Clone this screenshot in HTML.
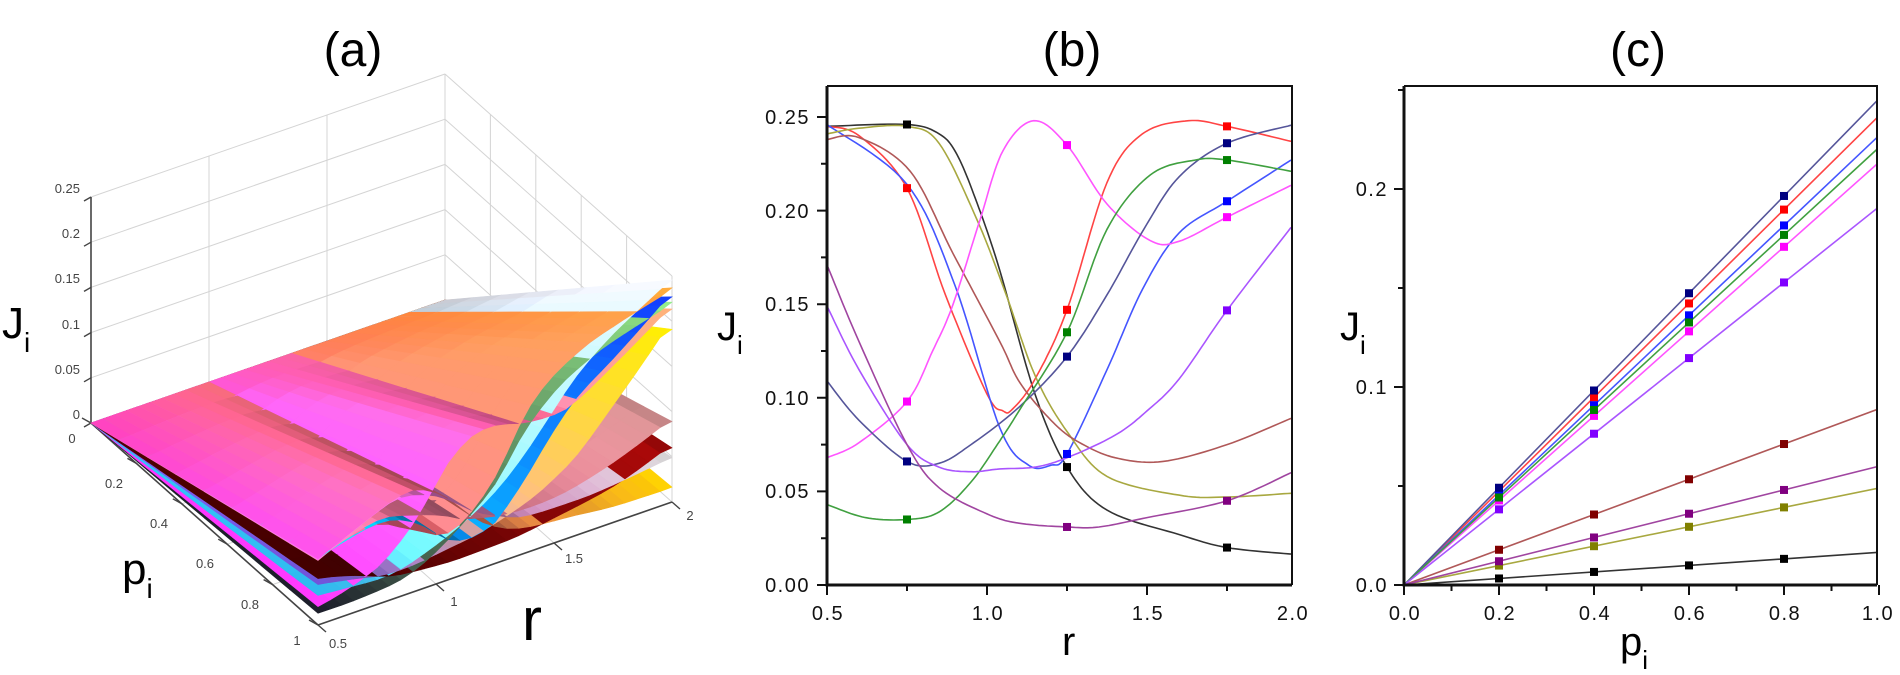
<!DOCTYPE html>
<html><head><meta charset="utf-8"><style>
html,body{margin:0;padding:0;background:#fff;}
svg{display:block;font-family:"Liberation Sans",Arial,sans-serif;}
.tk{font-size:20px;letter-spacing:1.5px;fill:#111;}
.t3{font-size:13px;fill:#444;}
</style></head><body>
<svg id="s" width="1900" height="675" viewBox="0 0 1900 675" xmlns="http://www.w3.org/2000/svg">
<defs>
<clipPath id="cb"><rect x="827" y="86" width="465" height="499"/></clipPath>
<clipPath id="cc"><rect x="1404" y="86" width="473" height="499"/></clipPath>
</defs>
<rect width="1900" height="675" fill="#fff"/>
<text x="353" y="66" font-size="48" text-anchor="middle">(a)</text>
<text x="1072" y="66" font-size="48" text-anchor="middle">(b)</text>
<text x="1638" y="66" font-size="48" text-anchor="middle">(c)</text>

<g id="a3d"></g>
<g class="t3" text-anchor="end">
<text x="80" y="193">0.25</text><text x="80" y="238">0.2</text><text x="80" y="283">0.15</text>
<text x="80" y="329">0.1</text><text x="80" y="374">0.05</text><text x="80" y="419">0</text>
</g>
<g class="t3" text-anchor="middle">
<text x="72" y="443">0</text>
<text x="114" y="488">0.2</text><text x="159" y="528">0.4</text><text x="205" y="568">0.6</text>
<text x="250" y="609">0.8</text><text x="297" y="645">1</text>
<text x="338" y="648">0.5</text><text x="454" y="606">1</text><text x="574" y="563">1.5</text><text x="690" y="520">2</text>
</g>
<text x="2" y="338" font-size="44">J<tspan font-size="28" dy="14">i</tspan></text>
<text x="122" y="584" font-size="44">p<tspan font-size="28" dy="14">i</tspan></text>
<text x="522" y="640" font-size="60">r</text>

<g id="pb" clip-path="url(#cb)"></g>
<g stroke="#111" fill="none">
<path d="M827 86 V585 H1292" stroke-width="3"/>
<path d="M827 86 H1292 V585" stroke-width="2"/>
<path id="tb" stroke-width="2"/>
</g>
<g class="tk" text-anchor="end">
<text x="810" y="592">0.00</text><text x="810" y="498">0.05</text><text x="810" y="405">0.10</text>
<text x="810" y="311">0.15</text><text x="810" y="218">0.20</text><text x="810" y="124">0.25</text>
</g>
<g class="tk" text-anchor="middle">
<text x="828" y="620">0.5</text><text x="988" y="620">1.0</text><text x="1148" y="620">1.5</text><text x="1293" y="620">2.0</text>
</g>
<text x="717" y="340" font-size="40">J<tspan font-size="26" dy="14">i</tspan></text>
<text x="1062" y="655" font-size="40">r</text>

<g id="pc" clip-path="url(#cc)"></g>
<g stroke="#111" fill="none">
<path d="M1404 86 V585 H1877" stroke-width="3"/>
<path d="M1404 86 H1877 V585" stroke-width="2"/>
<path id="tc" stroke-width="2"/>
</g>
<g class="tk" text-anchor="end">
<text x="1388" y="592">0.0</text><text x="1388" y="394">0.1</text><text x="1388" y="196">0.2</text>
</g>
<g class="tk" text-anchor="middle">
<text x="1405" y="620">0.0</text><text x="1500" y="620">0.2</text><text x="1595" y="620">0.4</text>
<text x="1690" y="620">0.6</text><text x="1785" y="620">0.8</text><text x="1878" y="620">1.0</text>
</g>
<text x="1340" y="340" font-size="40">J<tspan font-size="26" dy="14">i</tspan></text>
<text x="1620" y="655" font-size="40">p<tspan font-size="26" dy="14">i</tspan></text>
</svg>
<script>
var NS="http://www.w3.org/2000/svg";
function el(par,tag,at){var e=document.createElementNS(NS,tag);for(var k in at)e.setAttribute(k,at[k]);par.appendChild(e);return e;}
var S=[
{c:'#333',m:'#000',pts:[[0.5,.245],[0.75,.246],[0.85,.241],[0.906,.23],[0.969,.204],[1.04,.168],[1.15,.102],[1.25,.063],[1.375,.04],[1.6,.027],[1.75,.02],[1.95,.0165]],mk:[0.75,1.25,1.75]},
{c:'#ff4444',m:'#ff0000',pts:[[0.5,.245],[0.6,.24],[0.75,.212],[0.87,.155],[1.0,.102],[1.05,.093],[1.08,.094],[1.15,.11],[1.25,.147],[1.375,.215],[1.486,.241],[1.63,.248],[1.75,.245],[1.95,.237]],mk:[0.75,1.25,1.75]},
{c:'#4455ff',m:'#0000ff',pts:[[0.5,.246],[0.75,.214],[0.9,.16],[1.04,.084],[1.13,.064],[1.2,.064],[1.25,.07],[1.375,.115],[1.486,.158],[1.6,.188],[1.75,.205],[1.95,.227]],mk:[1.25,1.75]},
{c:'#a8a840',m:'#808000',pts:[[0.5,.241],[0.6,.244],[0.75,.245],[0.85,.236],[0.969,.195],[1.06,.155],[1.15,.112],[1.25,.082],[1.375,.058],[1.6,.048],[1.75,.047],[1.95,.049]],mk:[]},
{c:'#b05858',m:'#800000',pts:[[0.5,.238],[0.6,.239],[0.76,.221],[0.894,.177],[1.04,.13],[1.103,.108],[1.2,.088],[1.28,.077],[1.4,.068],[1.55,.066],[1.75,.075],[1.95,.089]],mk:[]},
{c:'#ff55ff',m:'#ff00ff',pts:[[0.5,.068],[0.6,.076],[0.75,.098],[0.83,.125],[0.894,.15],[0.978,.195],[1.05,.232],[1.146,.248],[1.25,.235],[1.375,.2035],[1.51,.184],[1.6,.1836],[1.75,.1965],[1.95,.2135]],mk:[0.75,1.25,1.75]},
{c:'#55559a',m:'#000080',pts:[[0.5,.109],[0.6,.088],[0.75,.066],[0.85,.065],[0.95,.075],[1.1,.095],[1.25,.122],[1.375,.155],[1.49,.19],[1.6,.218],[1.75,.236],[1.95,.2456]],mk:[0.75,1.25,1.75]},
{c:'#40a040',m:'#008000',pts:[[0.5,.043],[0.62,.036],[0.75,.035],[0.85,.039],[0.95,.055],[1.04,.077],[1.1,.093],[1.25,.135],[1.375,.19],[1.51,.219],[1.65,.227],[1.75,.227],[1.95,.221]],mk:[0.75,1.25,1.75]},
{c:'#aa55ff',m:'#8000ff',pts:[[0.5,.149],[0.6,.115],[0.75,.075],[0.85,.063],[0.95,.0605],[1.04,.062],[1.15,.063],[1.25,.068],[1.4,.08],[1.5,.093],[1.6,.11],[1.75,.1467],[1.95,.191]],mk:[1.75]},
{c:'#a045a0',m:'#800080',pts:[[0.5,.171],[0.6,.13],[0.75,.075],[0.85,.052],[1.0,.038],[1.1,.033],[1.25,.031],[1.35,.031],[1.5,.036],[1.75,.045],[1.95,.06]],mk:[1.25,1.75]}
];
function cr(pts,n){var out=[];for(var i=0;i<pts.length-1;i++){var p0=pts[Math.max(i-1,0)],p1=pts[i],p2=pts[i+1],p3=pts[Math.min(i+2,pts.length-1)];
for(var k=0;k<n;k++){var t=k/n,t2=t*t,t3=t2*t;function f(a,b,c,d){return 0.5*((2*b)+(-a+c)*t+(2*a-5*b+4*c-d)*t2+(-a+3*b-3*c+d)*t3);}
out.push([f(p0[0],p1[0],p2[0],p3[0]),f(p0[1],p1[1],p2[1],p3[1])]);}}out.push(pts[pts.length-1]);return out;}
function fval(s,r){var d=cr(s.pts,12);for(var i=0;i<d.length-1;i++){if(r<=d[i+1][0])return d[i][1]+(d[i+1][1]-d[i][1])*(r-d[i][0])/(d[i+1][0]-d[i][0]||1);}return d[d.length-1][1];}
var pb=document.getElementById('pb');
function bx(r){return 827+320*(r-0.5);} function by(j){return 585-1872*j;}
S.forEach(function(s){var d=cr(s.pts,12);el(pb,'polyline',{points:d.map(function(q){return bx(q[0]).toFixed(1)+','+by(q[1]).toFixed(1);}).join(' '),fill:'none',stroke:s.c,'stroke-width':1.6});});
S.forEach(function(s){s.mk.forEach(function(r){var j=fval(s,r);el(pb,'rect',{x:bx(r)-4,y:by(j)-4,width:8,height:8,fill:s.m});});});
var t='';for(var j=0;j<=0.25001;j+=0.025){var y=by(j);var L=(Math.round(j*1000)%50==0)?10:6;t+='M827 '+y.toFixed(1)+'h-'+L;}
for(var r=0.5;r<=1.96;r+=0.25){var x=bx(r);var L=(Math.round(r*100)%50==0)?10:6;t+='M'+x.toFixed(1)+' 585v'+L;}
document.getElementById('tb').setAttribute('d',t);
var pc=document.getElementById('pc');
function cx(p){return 1404+475*p;} function cy(j){return 585-1980*j;}
S.forEach(function(s){var e=s.pts[s.pts.length-1][1];el(pc,'line',{x1:cx(0),y1:cy(0),x2:cx(1),y2:cy(e),stroke:s.c,'stroke-width':1.6});});
S.forEach(function(s){var e=s.pts[s.pts.length-1][1];[0.2,0.4,0.6,0.8].forEach(function(p){el(pc,'rect',{x:cx(p)-4,y:cy(e*p)-4,width:8,height:8,fill:s.m});});});
t='';for(var j=0;j<=0.2501;j+=0.05){var y=cy(j);var L=(Math.round(j*100)%10==0)?10:6;t+='M1404 '+y.toFixed(1)+'h-'+L;}
for(var p=0;p<=1.001;p+=0.1){var x=cx(p);var L=(Math.round(p*10)%2==0)?10:6;t+='M'+x.toFixed(1)+' 585v'+L;}
document.getElementById('tc').setAttribute('d',t);
var ga=document.getElementById('a3d');
function P(r,p,J){return [91+236*(r-0.5)+227*p,423-82*(r-0.5)+202*p-904*J];}
function ln(a,b,c,w){el(ga,'line',{x1:a[0],y1:a[1],x2:b[0],y2:b[1],stroke:c,'stroke-width':w||1});}
var gc='#d4d4d4';
for(var j=0.05;j<=0.2501;j+=0.05){ln(P(0.5,0,j),P(2,0,j),gc);ln(P(2,0,j),P(2,1,j),gc);}
[1,1.5,2].forEach(function(r){ln(P(r,0,0),P(r,0,0.25),gc);ln(P(r,0,0),P(r,1,0),gc);});
[0.2,0.4,0.6,0.8,1].forEach(function(p){ln(P(2,p,0),P(2,p,0.25),gc);ln(P(0.5,p,0),P(2,p,0),gc);});
ln(P(0.5,0,0),P(0.5,0,0.25),'#444',1.6);ln(P(0.5,0,0),P(0.5,1,0),'#444',1.6);ln(P(0.5,1,0),P(2,1,0),'#444',1.6);
for(var j=0;j<=0.2501;j+=0.05){var a=P(0.5,0,j);ln(a,[a[0]-7,a[1]+4],'#444',1.4);}
[0,0.2,0.4,0.6,0.8,1].forEach(function(p){var a=P(0.5,p,0);ln(a,[a[0]-9,a[1]-5],'#444',1.4);});
[0.5,1,1.5,2].forEach(function(r){var a=P(r,1,0);ln(a,[a[0]+8,a[1]+7],'#444',1.4);});
var cols=[['#ff40c0','#ffd000'],['#ff60a0','#ff8a30'],['#00e0ff','#1030ff'],['#ff50d0','#c8c8c8'],['#ff70a0','#b07878'],['#ff30ff','#ff9060'],['#30c8ff','#c8c8d0'],['#1c1c2a','#78c070'],['#8060ff','#ffc000'],['#500000','#8a0808']];
function hx(c){return [parseInt(c.substr(1,2),16),parseInt(c.substr(3,2),16),parseInt(c.substr(5,2),16)];}
function mix(a,b,t,sh){var A=hx(a),B=hx(b);return 'rgb('+[0,1,2].map(function(i){return Math.max(0,Math.min(255,Math.round((A[i]+(B[i]-A[i])*t)*sh)));}).join(',')+')';}
var quads=[];var NR=30,NP=8;
S.forEach(function(s,k){var g=[];for(var i=0;i<=NR;i++){var r=0.5+1.5*i/NR;g.push(fval(s,r)*(0.3+0.7*(r-0.5)/1.5));}
for(var i=0;i<NR;i++)for(var q=0;q<NP;q++){var r0=0.5+1.5*i/NR,r1=0.5+1.5*(i+1)/NR,p0=q/NP,p1=(q+1)/NP;
var J00=p0*g[i],J10=p0*g[i+1],J01=p1*g[i],J11=p1*g[i+1];
var pts=[P(r0,p0,J00),P(r1,p0,J10),P(r1,p1,J11),P(r0,p1,J01)];
var rm=(r0+r1)/2,pm=(p0+p1)/2,Jm=(J00+J10+J01+J11)/4;
var depth=0.83*(-0.54*(rm-0.5)/1.5+0.842*pm)+0.55*(Jm/0.25*0.65);
var slope=(g[i+1]-g[i])*NR/1.5;var sh=1+Math.max(-0.35,Math.min(0.25,slope*pm*3));
quads.push({d:depth,pts:pts,c:mix(cols[k][0],cols[k][1],(rm-0.5)/1.5,sh)});}});
quads.sort(function(a,b){return a.d-b.d;});
quads.forEach(function(q){el(ga,'polygon',{points:q.pts.map(function(v){return v[0].toFixed(1)+','+v[1].toFixed(1);}).join(' '),fill:q.c,stroke:q.c,'stroke-width':0.6});});
</script>
</body></html>
